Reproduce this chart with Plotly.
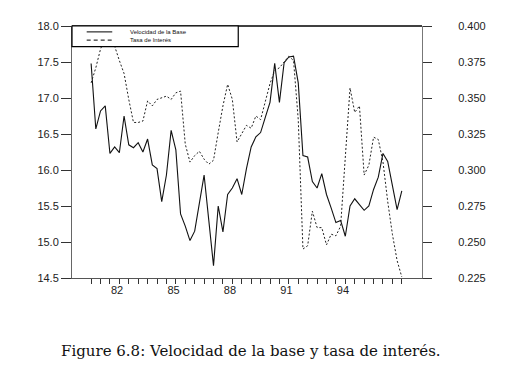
import plotly.graph_objects as go

# Quarterly observations (decimal years, two-digit), starting 1980 Q3
velocidad = [17.48, 16.57, 16.82, 16.89, 16.23, 16.32, 16.24, 16.75, 16.35, 16.31,
             16.38, 16.25, 16.43, 16.07, 16.02, 15.56, 15.93, 16.55, 16.28, 15.39,
             15.22, 15.02, 15.15, 15.55, 15.93, 15.30, 14.67, 15.50, 15.14, 15.66,
             15.75, 15.88, 15.66, 16.02, 16.32, 16.46, 16.52, 16.73, 16.94, 17.48,
             16.94, 17.49, 17.57, 17.58, 17.21, 16.20, 16.18, 15.84, 15.75, 15.95,
             15.66, 15.47, 15.27, 15.30, 15.08, 15.50, 15.60, 15.52, 15.44, 15.50,
             15.73, 15.90, 16.23, 16.12, 15.79, 15.45, 15.71]
tasa = [0.3605, 0.371, 0.384, 0.392, 0.390, 0.386, 0.376, 0.367, 0.349, 0.333,
        0.333, 0.334, 0.348, 0.3445, 0.349, 0.350, 0.3513, 0.349, 0.3536, 0.3548,
        0.318, 0.3055, 0.310, 0.313, 0.3075, 0.304, 0.3068, 0.326, 0.3445, 0.3595,
        0.349, 0.3195, 0.325, 0.331, 0.329, 0.3375, 0.335, 0.348, 0.360, 0.369,
        0.371, 0.375, 0.379, 0.376, 0.335, 0.2451, 0.2474, 0.2714, 0.260, 0.260,
        0.248, 0.2554, 0.2543, 0.261, 0.309, 0.357, 0.340, 0.3445, 0.2965, 0.3034,
        0.3228, 0.3212, 0.3056, 0.2782, 0.2554, 0.2371, 0.2257]
start_year = 80.625
fechas = [start_year + 0.25 * i for i in range(len(velocidad))]

x_tick_vals = [82, 85, 88, 91, 94]
x_tick_text = ["82", "85", "88", "91", "94"]
y1_ticks = [14.5, 15.0, 15.5, 16.0, 16.5, 17.0, 17.5, 18.0]
y2_ticks = [0.225, 0.250, 0.275, 0.300, 0.325, 0.350, 0.375, 0.400]

leyenda = ["Velocidad de la Base", "Tasa de Interés"]
caption = "Figure 6.8: Velocidad de la base y tasa de interés."

fig = go.Figure()
fig.add_trace(go.Scatter(x=fechas, y=velocidad, mode="lines", name=leyenda[0],
                         line=dict(color="#111111", width=1.1), yaxis="y"))
fig.add_trace(go.Scatter(x=fechas, y=tasa, mode="lines", name=leyenda[1],
                         line=dict(color="#222222", width=1, dash="2px,2px"), yaxis="y2"))

tickfont = dict(family="Liberation Sans, Arial, sans-serif", size=11, color="#222222")

fig.update_layout(
    width=504, height=384,
    margin=dict(l=64, r=90, t=14, b=114),
    paper_bgcolor="white", plot_bgcolor="white",
    showlegend=False,
    xaxis=dict(range=[79.61, 98.197], tickmode="array", tickvals=x_tick_vals,
               ticktext=x_tick_text, ticks="", showgrid=False, zeroline=False,
               showline=True, linecolor="#555555", linewidth=1, tickfont=tickfont,
               ticklabelstandoff=2,
               minor=dict(tickmode="array", tickvals=fechas[::2], ticks="outside",
                          ticklen=5, tickwidth=1, tickcolor="#333333", showgrid=False)),
    yaxis=dict(range=[14.5, 18.0], tickmode="array", tickvals=y1_ticks, tickformat=".1f",
               ticks="outside", ticklen=10, tickwidth=1, tickcolor="#333333",
               showgrid=False, zeroline=False, showline=True, linecolor="#666666",
               linewidth=1, tickfont=tickfont),
    yaxis2=dict(range=[0.225, 0.400], overlaying="y", side="right", tickmode="array",
                tickvals=y2_ticks, tickformat=".3f", ticks="outside", ticklen=9,
                tickwidth=1, tickcolor="#333333", showgrid=False, zeroline=False,
                showline=True, linecolor="#777777", linewidth=1, tickfont=tickfont,
                ticklabelstandoff=24),
)

# top frame line and legend box
fig.add_shape(type="line", xref="paper", yref="paper", x0=0, x1=1, y0=1, y1=1,
              line=dict(color="black", width=1.5))
fig.add_shape(type="rect", xref="paper", yref="paper", x0=0, x1=0.475, y0=0.918, y1=1,
              fillcolor="white", line=dict(color="black", width=1.2), layer="above")
fig.add_shape(type="line", xref="paper", yref="paper", x0=0.042, x1=0.115,
              y0=0.9766, y1=0.9766, line=dict(color="black", width=1), layer="above")
fig.add_shape(type="line", xref="paper", yref="paper", x0=0.042, x1=0.115,
              y0=0.944, y1=0.944, line=dict(color="black", width=1, dash="4px,3px"),
              layer="above")
legfont = dict(family="Liberation Sans, Arial, sans-serif", size=6, color="#111111")
fig.add_annotation(x=0.161, y=0.9766, xref="paper", yref="paper", text=leyenda[0],
                   showarrow=False, xanchor="left", yanchor="middle", font=legfont)
fig.add_annotation(x=0.161, y=0.944, xref="paper", yref="paper", text=leyenda[1],
                   showarrow=False, xanchor="left", yanchor="middle", font=legfont)

fig.add_annotation(x=0.511, y=-0.291, xref="paper", yref="paper", text=caption,
                   showarrow=False, xanchor="center", yanchor="middle",
                   font=dict(family="DejaVu Serif, Liberation Serif, serif", size=15,
                             color="#111111"))

fig.write_html("out.html")
